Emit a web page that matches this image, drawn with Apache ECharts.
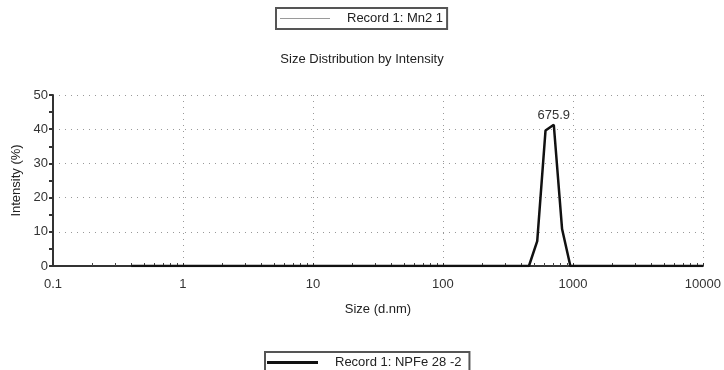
<!DOCTYPE html>
<html>
<head>
<meta charset="utf-8">
<script src="https://cdn.jsdelivr.net/npm/echarts@6/dist/echarts.min.js"></script>
<style>
  html, body { margin: 0; padding: 0; background: #fff; }
  #chart { width: 724px; height: 370px; }
</style>
</head>
<body>
<div id="chart"></div>
<script>
// size bins (d.nm) and intensity (%)
const sizes = [0.4, 458.7, 531.2, 615.1, 712.4, 825.0, 955.4, 10000];
const intensity = [0, 0, 7.3, 39.6, 41.3, 10.8, 0, 0];
const peakLabel = '675.9';
const peakIndex = 4;
const yTicks = [0, 10, 20, 30, 40, 50];
const nameA = 'Record 1: Mn2 1';
const nameB = 'Record 1: NPFe 28 -2';

const font = 'Liberation Sans, Arial, sans-serif';
const chart = echarts.init(document.getElementById('chart'));

const lineData = sizes.map((s, i) => {
  const p = { value: [s, intensity[i]] };
  if (i === peakIndex) {
    p.label = { show: true, position: 'top', distance: 3, formatter: peakLabel,
      color: '#333', fontSize: 13, fontFamily: font };
  }
  return p;
});

const legendText = { color: '#222', fontSize: 13, fontFamily: font, padding: [0, 0, 0, 12] };

chart.setOption({
  animation: false,
  title: {
    text: 'Size Distribution by Intensity', left: 'center', top: 48,
    textStyle: { color: '#222', fontSize: 13, fontWeight: 'normal', fontFamily: font },
  },
  legend: [
    { data: [nameA], left: 276, top: 8, icon: 'rect',
      borderColor: '#555', borderWidth: 2, padding: [4, 4, 4, 4],
      itemWidth: 50, itemHeight: 1, itemGap: 0, textStyle: legendText },
    { data: [nameB], left: 265, top: 352, icon: 'rect',
      borderColor: '#555', borderWidth: 2, padding: [4, 8, 4, 2],
      itemWidth: 51, itemHeight: 3, itemGap: 0,
      textStyle: Object.assign({}, legendText, { padding: [0, 0, 0, 12] }) },
  ],
  grid: { left: 53, right: 17, top: 95, bottom: 104, containLabel: false },
  xAxis: {
    type: 'log', logBase: 10, min: 0.1, max: 10000,
    name: 'Size (d.nm)', nameLocation: 'middle', nameGap: 37,
    nameTextStyle: { color: '#222', fontSize: 13, fontFamily: font },
    axisLine: { lineStyle: { color: '#333', width: 2 } },
    axisTick: { show: true, inside: true, length: 3, lineStyle: { color: '#333' } },
    minorTick: { show: true, splitNumber: 9, length: 3, lineStyle: { color: '#444' } },
    axisLabel: { color: '#333', fontSize: 13, fontFamily: font, margin: 12,
      formatter: v => String(v) },
    splitLine: { show: true, lineStyle: { color: '#999', type: [1, 5], width: 1 } },
  },
  yAxis: {
    type: 'value', min: 0, max: 50, interval: 10,
    name: 'Intensity (%)', nameLocation: 'middle', nameGap: 30, nameRotate: 90,
    nameTextStyle: { color: '#222', fontSize: 13, fontFamily: font },
    axisLine: { show: true, lineStyle: { color: '#333', width: 2 } },
    axisTick: { show: true, length: 4, lineStyle: { color: '#333', width: 2 } },
    minorTick: { show: true, splitNumber: 2, length: 4, lineStyle: { color: '#333', width: 2 } },
    axisLabel: { color: '#333', fontSize: 13, fontFamily: font, margin: 5,
      customValues: yTicks },
    splitLine: { show: true, lineStyle: { color: '#999', type: [1, 5], width: 1 } },
  },
  series: [
    { name: nameA, type: 'line', data: [], symbol: 'none',
      lineStyle: { color: '#9a9a9a', width: 1 }, itemStyle: { color: '#9a9a9a' } },
    { name: nameB, type: 'line', data: lineData, symbol: 'circle', symbolSize: 0,
      showSymbol: true,
      lineStyle: { color: '#111', width: 2.5 }, itemStyle: { color: '#111' }, z: 5 },
  ],
});
</script>
</body>
</html>
